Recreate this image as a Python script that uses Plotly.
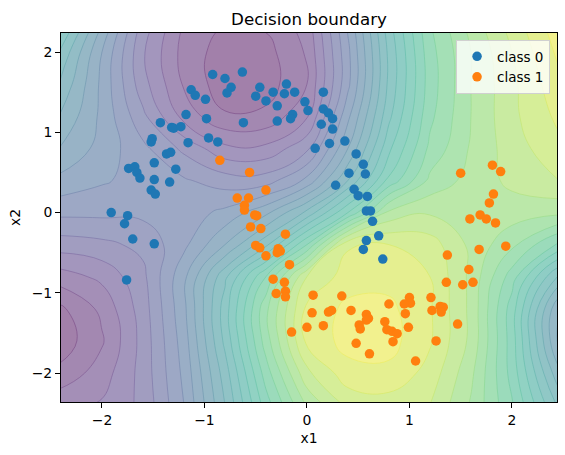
import plotly.graph_objects as go

# ---------------- data ----------------
class0_x = [-0.92, -0.80, -0.63, -1.13, -1.09, -0.99, -0.74, -0.78, -0.46, -0.50, -0.40, -0.33, -0.20, -0.22, -0.12,
            -0.29, -0.02, 0.01, -0.14, -0.16, -0.29, -0.62, -0.98, -1.18, -1.43, -1.32, -1.30, -1.23, -1.51, -1.52,
            -1.16, -0.96, -0.87, -1.37, -1.33, -1.49, -1.28, -1.74, -1.68, -1.66, -1.63, -1.49, -1.34, -1.52, -1.48,
            -1.91, -1.75, -1.78, 0.08, -1.70, -1.49, -1.76, 0.16, 0.16, 0.21, 0.25, 0.14, 0.25, 0.37, 0.22,
            0.48, 0.55, 0.41, 0.57, 0.28, 0.46, 0.50, 0.59, 0.58, 0.62, 0.64, 0.70, 0.58, 0.55, 0.74]
class0_y = [1.72, 1.67, 1.75, 1.53, 1.46, 1.41, 1.56, 1.49, 1.56, 1.45, 1.39, 1.50, 1.60, 1.48, 1.50,
            1.33, 1.38, 1.27, 1.22, 1.17, 1.14, 1.12, 1.17, 1.22, 1.12, 1.06, 1.05, 1.07, 0.92, 0.88,
            0.87, 0.93, 0.88, 0.73, 0.75, 0.62, 0.54, 0.55, 0.57, 0.50, 0.43, 0.41, 0.38, 0.28, 0.23,
            0.00, -0.04, -0.14, 0.80, -0.33, -0.39, -0.84, 1.50, 1.29, 1.24, 1.17, 1.10, 1.04, 0.89, 0.86,
            0.73, 0.60, 0.49, 0.48, 0.34, 0.29, 0.21, 0.20, 0.02, 0.02, -0.11, -0.29, -0.35, -0.46, -0.58]

class1_x = [-0.85, -0.56, -0.40, -0.68, -0.57, -0.61, -0.61, -0.51, -0.49, -0.55, -0.45, -0.21, -0.50, -0.46, -0.40,
            -0.28, -0.26, -0.29, -0.17, -0.33, -0.22, -0.30, -0.21, -0.21, 0.06, 0.34, 0.05, 0.21, 0.24, 0.43,
            0.58, 0.60, 0.58, 0.51, 0.52, 0.80, 0.76, 0.78, 0.83, 0.88, 0.84, 0.48, 0.61, 0.99, 0.96,
            1.00, 1.01, 0.95, 1.21, 1.22, 1.30, 1.33, 1.31, 1.26, 1.37, 1.36, -0.15, 0.00, 0.16, 1.50,
            1.52, 1.47, 1.06, 1.78, 1.59, 1.69, 1.75, 1.84, 1.94, 1.68, 1.58, 1.62, 1.81, 1.89, 1.82]
class1_y = [0.65, 0.50, 0.28, 0.18, 0.18, 0.09, 0.03, -0.03, -0.04, -0.18, -0.20, -0.27, -0.41, -0.44, -0.54,
            -0.45, -0.48, -0.50, -0.65, -0.83, -0.87, -1.01, -0.98, -1.05, -1.03, -1.04, -1.25, -1.24, -1.22, -1.22,
            -1.27, -1.32, -1.34, -1.40, -1.45, -1.14, -1.36, -1.46, -1.48, -1.51, -1.61, -1.63, -1.76, -1.43, -1.26,
            -1.06, -1.13, -1.14, -1.06, -1.22, -1.17, -1.18, -1.24, -1.60, -0.53, -0.87, -1.49, -1.43, -1.41, 0.49,
            -0.90, -1.39, -1.85, 0.12, -0.08, -0.03, -0.08, -0.13, -0.42, -0.46, -0.71, -0.87, 0.59, 0.51, 0.23]

# decision-surface samples (probability of class 1)
field_x = [-2.42, -2.0, -1.6, -1.2, -0.8, -0.4, 0.0, 0.4, 0.8, 1.2, 1.6, 2.0, 2.46]
field_y = [-2.4, -2.0, -1.6, -1.2, -0.8, -0.4, 0.0, 0.4, 0.8, 1.2, 1.6, 2.0, 2.4]
field_p = [
    [0.11, 0.125, 0.17, 0.28, 0.44, 0.62, 0.765, 0.85, 0.86, 0.84, 0.755, 0.645, 0.47],
    [0.05, 0.10, 0.175, 0.29, 0.46, 0.66, 0.83, 0.905, 0.91, 0.865, 0.77, 0.625, 0.41],
    [0.015, 0.075, 0.175, 0.30, 0.49, 0.70, 0.89, 0.935, 0.935, 0.885, 0.79, 0.62, 0.35],
    [0.03, 0.09, 0.18, 0.31, 0.50, 0.71, 0.89, 0.93, 0.93, 0.885, 0.79, 0.62, 0.36],
    [0.10, 0.13, 0.19, 0.31, 0.47, 0.64, 0.84, 0.90, 0.905, 0.88, 0.79, 0.66, 0.47],
    [0.18, 0.19, 0.21, 0.27, 0.36, 0.47, 0.64, 0.875, 0.88, 0.86, 0.79, 0.73, 0.63],
    [0.25, 0.25, 0.25, 0.26, 0.29, 0.35, 0.45, 0.60, 0.77, 0.795, 0.79, 0.78, 0.77],
    [0.31, 0.285, 0.265, 0.245, 0.22, 0.22, 0.29, 0.44, 0.61, 0.73, 0.775, 0.81, 0.84],
    [0.36, 0.305, 0.25, 0.19, 0.13, 0.13, 0.19, 0.36, 0.55, 0.69, 0.765, 0.82, 0.87],
    [0.40, 0.31, 0.21, 0.105, 0.045, 0.05, 0.115, 0.31, 0.51, 0.67, 0.76, 0.83, 0.89],
    [0.44, 0.31, 0.175, 0.075, 0.015, 0.02, 0.08, 0.27, 0.49, 0.66, 0.76, 0.83, 0.91],
    [0.48, 0.32, 0.165, 0.065, 0.02, 0.025, 0.085, 0.27, 0.49, 0.665, 0.76, 0.84, 0.93],
    [0.55, 0.37, 0.19, 0.08, 0.045, 0.05, 0.10, 0.29, 0.51, 0.68, 0.78, 0.86, 0.95],
]

tick_vals = [-2, -1, 0, 1, 2]

# ---------------- styling ----------------
FONT = "DejaVu Sans"
VIRIDIS = ["#440154", "#48186a", "#472d7b", "#424086", "#3b528b", "#33638d", "#2c728e", "#26828e",
           "#21918c", "#1fa088", "#28ae80", "#3fbc73", "#5ec962", "#84d44b", "#addc30", "#d8e219", "#fde725"]


def over_white(hex_color, alpha):
    r, g, b = (int(hex_color[i:i + 2], 16) for i in (1, 3, 5))
    mix = [round(alpha * c + (1 - alpha) * 255) for c in (r, g, b)]
    return f"rgb({mix[0]},{mix[1]},{mix[2]})"


n_stops = len(VIRIDIS)
fill_scale = [[i / (n_stops - 1), over_white(c, 0.5)] for i, c in enumerate(VIRIDIS)]
line_scale = [[i / (n_stops - 1), over_white(c, 0.68)] for i, c in enumerate(VIRIDIS)]

levels = dict(start=0.04, end=0.96, size=0.04)

fig = go.Figure()
fig.add_trace(go.Contour(
    x=field_x, y=field_y, z=field_p, colorscale=fill_scale,
    contours=dict(coloring="fill", **levels), line=dict(width=0, smoothing=1.3),
    showscale=False, hoverinfo="skip", showlegend=False))
fig.add_trace(go.Contour(
    x=field_x, y=field_y, z=field_p, colorscale=line_scale,
    contours=dict(coloring="lines", **levels), line=dict(width=0.7, smoothing=1.3),
    showscale=False, hoverinfo="skip", showlegend=False))
fig.add_trace(go.Scatter(x=class0_x, y=class0_y, mode="markers", name="class 0",
                         marker=dict(color="#1f77b4", size=9.5, line=dict(width=0))))
fig.add_trace(go.Scatter(x=class1_x, y=class1_y, mode="markers", name="class 1",
                         marker=dict(color="#ff7f0e", size=9.5, line=dict(width=0))))

axis_common = dict(showgrid=False, zeroline=False, showline=True, mirror=True, linecolor="black",
                   linewidth=1, ticks="outside", ticklen=5, tickwidth=1, tickcolor="black",
                   tickvals=tick_vals, tickfont=dict(family=FONT, size=13.9, color="black"))

fig.update_layout(
    width=565, height=455, autosize=False,
    margin=dict(l=61, r=8, t=33, b=53),
    paper_bgcolor="white", plot_bgcolor="white",
    font=dict(family=FONT, size=13.9, color="black"),
    title=dict(text="Decision boundary", x=0.5, xref="paper", xanchor="center",
               y=1, yref="paper", yanchor="bottom", pad=dict(b=8),
               font=dict(family=FONT, size=16.7, color="black")),
    xaxis=dict(range=[-2.40, 2.44], title=dict(text="x1", standoff=6,
               font=dict(family=FONT, size=13.9)), **axis_common),
    yaxis=dict(range=[-2.361, 2.237], title=dict(text="x2", standoff=7,
               font=dict(family=FONT, size=13.9)), **axis_common),
    legend=dict(x=0.986, y=0.981, xanchor="right", yanchor="top",
                bgcolor="rgba(255,255,255,0.8)", bordercolor="#d0d0d0", borderwidth=1,
                font=dict(family=FONT, size=13.5, color="black")),
)

fig.write_html("out.html")
